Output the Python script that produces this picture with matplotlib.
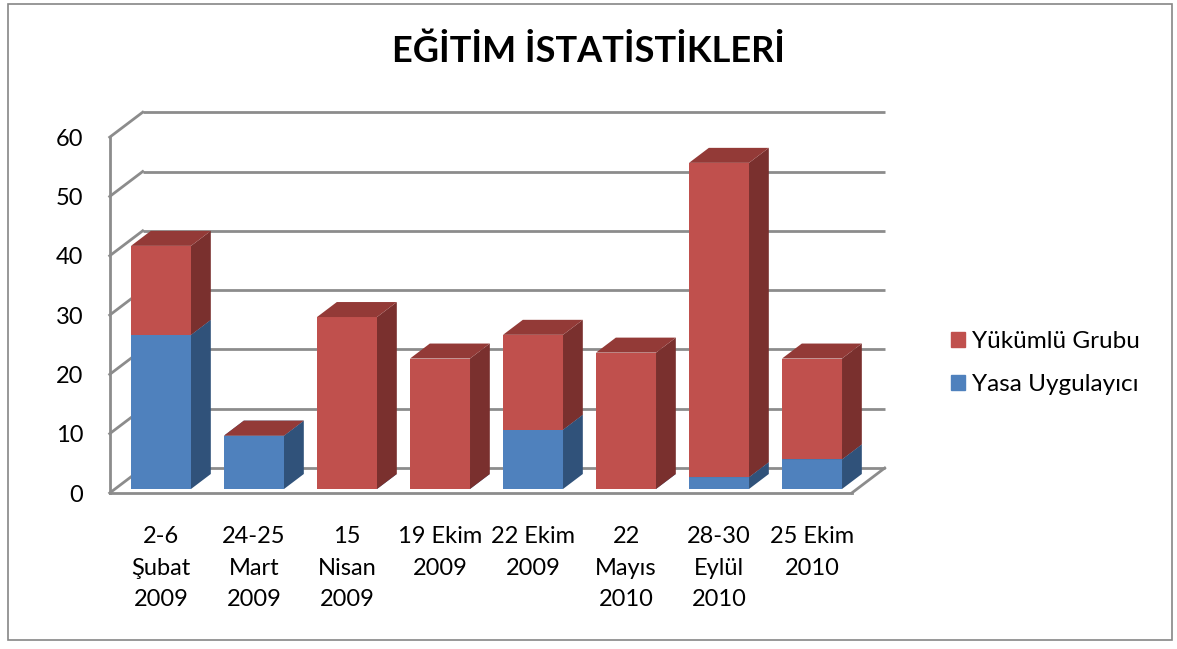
import matplotlib
matplotlib.use("Agg")
import matplotlib.pyplot as plt
from matplotlib.patches import Polygon, Patch, Rectangle

plt.rcParams['font.family'] = ['Lato', 'DejaVu Sans']

# Data
categories = ["2-6\nŞubat\n2009", "24-25\nMart\n2009", "15\nNisan\n2009", "19 Ekim\n2009",
              "22 Ekim\n2009", "22\nMayıs\n2010", "28-30\nEylül\n2010", "25 Ekim\n2010"]
yasa = [26, 9, 0, 0, 10, 0, 2, 5]
yukumlu = [15, 0, 29, 22, 16, 23, 53, 17]
yticks = [0, 10, 20, 30, 40, 50, 60]
title = "EĞİTİM İSTATİSTİKLERİ"
series_names = ["Yükümlü Grubu", "Yasa Uygulayıcı"]

# colors
red_front, red_side, red_top = "#C0504D", "#7A302E", "#933A37"
blue_front, blue_side, blue_top = "#4F81BD", "#30527A", "#3E6796"
grid_col = "#8C8C8C"

# fake 3d geometry (data units)
ddx, ddy = 0.355, 4.216      # depth vector
z0, z1 = -0.16, 0.84         # wall front / back
zb = 0.6                     # bar depth
xw0, xw1 = -0.495, 7.484
w = 0.645


def P(x, v, z):
    return (x + z * ddx, v + z * ddy)


fig = plt.figure(figsize=(11.77, 6.49), dpi=100)
ax = fig.add_axes([100 / 1177, 149 / 649, 800 / 1177, 400 / 649])
ax.set_xlim(-0.656, 7.946)
ax.set_ylim(-1.855, 65.6)
for s in ax.spines.values():
    s.set_visible(False)

# walls and floor
lw = 2.0
for v in yticks:
    a, b = P(xw0, v, z1), P(xw1, v, z1)
    ax.plot([a[0], b[0]], [a[1], b[1]], color=grid_col, lw=lw, zorder=1, solid_capstyle='butt')
    a, b = P(xw0, v, z0), P(xw0, v, z1)
    ax.plot([a[0], b[0]], [a[1], b[1]], color=grid_col, lw=lw, zorder=1)
a, b = P(xw0, 0, z0), P(xw0, 60, z0)
ax.plot([a[0], b[0]], [a[1], b[1]], color=grid_col, lw=lw, zorder=1)
a, b = P(xw0, 0, z0), P(xw1, 0, z0)
ax.plot([a[0], b[0]], [a[1], b[1]], color=grid_col, lw=lw, zorder=1)
a, b = P(xw1, 0, z0), P(xw1, 0, z1)
ax.plot([a[0], b[0]], [a[1], b[1]], color=grid_col, lw=lw, zorder=1)

# bars
x = list(range(len(categories)))
ax.bar(x, yasa, width=w, color=blue_front, zorder=2, linewidth=0)
ax.bar(x, yukumlu, width=w, bottom=yasa, color=red_front, zorder=4, linewidth=0)


def faces(c, lo, hi, side, top, zo):
    xl, xr = c - w / 2, c + w / 2
    ax.add_patch(Polygon([P(xr, lo, 0), P(xr, lo, zb), P(xr, hi, zb), P(xr, hi, 0)],
                         closed=True, facecolor=side, edgecolor='none', zorder=zo))
    ax.add_patch(Polygon([P(xl, hi, 0), P(xr, hi, 0), P(xr, hi, zb), P(xl, hi, zb)],
                         closed=True, facecolor=top, edgecolor='none', zorder=zo))


for i in x:
    faces(i, 0, yasa[i], blue_side, blue_top, 3)
    faces(i, yasa[i], yasa[i] + yukumlu[i], red_side, red_top, 5)

# ticks
ax.set_yticks([P(xw0, v, z0)[1] for v in yticks], [str(v) for v in yticks])
ax.set_xticks(x, categories)
ax.tick_params(axis='y', length=0, pad=12, labelsize=17)
ax.tick_params(axis='x', length=0, pad=19, labelsize=17)
for t in ax.get_xticklabels():
    t.set_linespacing(1.6)

# title
fig.text(589 / 1177, 1 - 51 / 649, title, ha='center', va='center',
         fontsize=26, fontweight='bold')

# legend
handles = [Patch(color=red_front), Patch(color=blue_front)]
fig.legend(handles, series_names, loc='center left',
           bbox_to_anchor=(951 / 1177, 1 - 363 / 649), frameon=False,
           fontsize=17.5, handlelength=0.58, handleheight=0.58,
           handletextpad=0.3, labelspacing=0.93, borderpad=0, borderaxespad=0)

# outer border
fig.patches.append(Rectangle((8 / 1177, 9 / 649), 1164 / 1177, 636 / 649,
                             transform=fig.transFigure, fill=False,
                             edgecolor="#868686", lw=1.2))

fig.savefig("out.png", dpi=100)
